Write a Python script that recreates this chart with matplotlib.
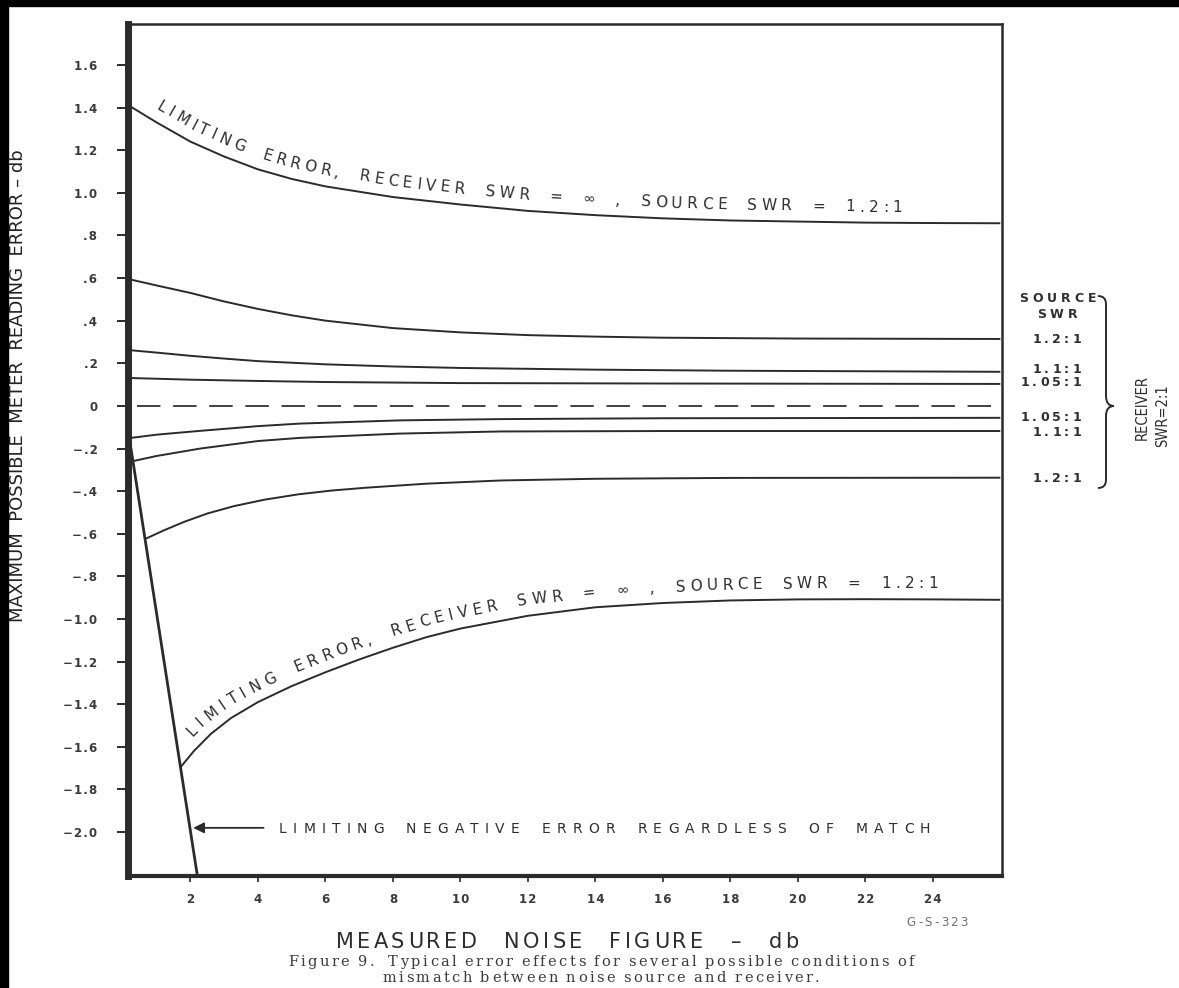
import numpy as np
import matplotlib
matplotlib.use('Agg')
import matplotlib.pyplot as plt
from matplotlib.font_manager import FontProperties
from matplotlib.transforms import IdentityTransform
from matplotlib.patches import Rectangle, PathPatch
from matplotlib.path import Path

# curves (x = measured noise figure, y = error in db)
lim_pos_x = [0.17, 1.0, 2.0, 3.0, 4.0, 5.0, 6.0, 8.0, 10.0, 12.0, 14.0, 16.0, 18.0, 20.0, 22.0, 24.0, 26.0]
lim_pos_y = [1.41, 1.33, 1.24, 1.17, 1.11, 1.065, 1.03, 0.98, 0.945, 0.915, 0.895, 0.88, 0.87, 0.865, 0.86, 0.858, 0.857]

lim_neg_x = [1.71, 2.1, 2.6, 3.2, 4.0, 5.0, 6.0, 7.0, 8.0, 9.0, 10.0, 12.0, 14.0, 16.0, 18.0, 20.0, 22.0, 24.0, 26.0]
lim_neg_y = [-1.695, -1.62, -1.54, -1.465, -1.39, -1.315, -1.25, -1.19, -1.135, -1.085, -1.045, -0.985, -0.945,
             -0.925, -0.913, -0.908, -0.907, -0.908, -0.91]

p12_x = [0.17, 1, 2, 3, 4, 5, 6, 8, 10, 12, 14, 16, 20, 26]
p12_y = [0.595, 0.565, 0.53, 0.49, 0.455, 0.425, 0.40, 0.365, 0.345, 0.332, 0.325, 0.32, 0.316, 0.314]

p11_x = [0.17, 1, 2, 3, 4, 6, 8, 10, 14, 18, 26]
p11_y = [0.262, 0.25, 0.235, 0.222, 0.21, 0.195, 0.185, 0.178, 0.17, 0.165, 0.16]

p105_x = [0.17, 2, 4, 6, 10, 16, 26]
p105_y = [0.131, 0.123, 0.117, 0.112, 0.107, 0.105, 0.103]

n105_x = [0.25, 1, 2.3, 4, 5.25, 8.2, 11.2, 16, 26]
n105_y = [-0.15, -0.135, -0.117, -0.095, -0.083, -0.068, -0.062, -0.058, -0.056]

n11_x = [0.33, 1, 2.3, 4, 5.25, 8.2, 11.2, 16, 26]
n11_y = [-0.258, -0.235, -0.2, -0.165, -0.15, -0.13, -0.12, -0.118, -0.118]

n12_x = [0.68, 1.2, 1.8, 2.5, 3.3, 4.2, 5.2, 6.2, 7.2, 9, 11.2, 14, 18, 26]
n12_y = [-0.623, -0.585, -0.545, -0.505, -0.47, -0.44, -0.415, -0.397, -0.384, -0.365, -0.35, -0.342, -0.338, -0.337]

steep_x = [0.12, 2.25]
steep_y = [-0.08, -2.25]

yticks = [1.6, 1.4, 1.2, 1.0, 0.8, 0.6, 0.4, 0.2, 0.0, -0.2, -0.4, -0.6, -0.8, -1.0,
          -1.2, -1.4, -1.6, -1.8, -2.0]
ytick_labels = ['1.6', '1.4', '1.2', '1.0', '.8', '.6', '.4', '.2', '0', '\u2212.2', '\u2212.4',
                '\u2212.6', '\u2212.8', '\u22121.0', '\u22121.2', '\u22121.4', '\u22121.6',
                '\u22121.8', '\u22122.0']
xticks = [2, 4, 6, 8, 10, 12, 14, 16, 18, 20, 22, 24]

pos_labels = ['1.2:1', '1.1:1', '1.05:1']
neg_labels = ['1.05:1', '1.1:1', '1.2:1']

INK = '#2b2b2b'
TXT = '#2e2e2e'
DPI = 100
W, H = 1179, 988

fig = plt.figure(figsize=(W / DPI, H / DPI), dpi=DPI)
fig.patch.set_facecolor('white')
ax = fig.add_axes([128 / W, 112 / H, 874 / W, 852 / H])
ax.set_xlim(0.15, 26.05)
ax.set_ylim(-2.206, 1.792)

for c in [(lim_pos_x, lim_pos_y), (lim_neg_x, lim_neg_y), (p12_x, p12_y), (p11_x, p11_y),
          (p105_x, p105_y), (n105_x, n105_y), (n11_x, n11_y), (n12_x, n12_y)]:
    ax.plot(c[0], c[1], color=INK, lw=1.4, solid_capstyle='butt', solid_joinstyle='round')
ax.plot(steep_x, steep_y, color=INK, lw=2.0)
ax.axhline(0, xmin=0.01, color='#333333', lw=1.3, dashes=(13, 7))

sp = '\u200a'
ax.set_yticks(yticks)
ax.set_yticklabels([sp.join(t) for t in ytick_labels])
ax.set_xticks(xticks)
ax.set_xticklabels([sp.join(str(v)) for v in xticks])
ax.tick_params(axis='y', length=8, width=1.4, pad=14, labelsize=8.5, colors=INK)
ax.tick_params(axis='x', length=4.5, width=1.2, pad=8, labelsize=8.5, colors=INK)
for lab in ax.get_xticklabels() + ax.get_yticklabels():
    lab.set_fontweight('bold')
    lab.set_color('#3a3a3a')

ax.spines['left'].set_linewidth(5)
ax.spines['bottom'].set_linewidth(3)
ax.spines['top'].set_linewidth(1.8)
ax.spines['right'].set_linewidth(1.8)
for s in ax.spines.values():
    s.set_color(INK)

renderer = fig.canvas.get_renderer()


def char_w(ch, prop):
    return renderer.get_text_width_height_descent(ch, prop, ismath=False)[0]


def put_chars(pts, s, start, fs, track, space, offset=0, family='DejaVu Sans',
              weight='normal', color=TXT):
    # lay characters one by one along a polyline given in pixels (baseline)
    pts = np.asarray(pts, dtype=float)
    d = np.diff(pts, axis=0)
    L = np.concatenate([[0], np.cumsum(np.hypot(d[:, 0], d[:, 1]))])
    prop = FontProperties(family=family, size=fs, weight=weight)
    a = start
    for ch in s:
        if ch == ' ':
            a += space
            continue
        w = char_w(ch, prop)
        c = a + w / 2
        x = np.interp(c, L, pts[:, 0])
        y = np.interp(c, L, pts[:, 1])
        x1, y1 = np.interp(c - 10, L, pts[:, 0]), np.interp(c - 10, L, pts[:, 1])
        x2, y2 = np.interp(c + 10, L, pts[:, 0]), np.interp(c + 10, L, pts[:, 1])
        ang = np.arctan2(y2 - y1, x2 - x1)
        nx, ny = -np.sin(ang), np.cos(ang)
        ax.text(x + offset * nx, y + offset * ny, ch, transform=IdentityTransform(),
                rotation=np.degrees(ang), rotation_mode='anchor', ha='center', va='baseline',
                fontproperties=prop, color=color)
        a += w + track


def text_width(s, fs, track, space, family='DejaVu Sans', weight='normal'):
    prop = FontProperties(family=family, size=fs, weight=weight)
    tot = 0
    for ch in s:
        tot += space if ch == ' ' else char_w(ch, prop) + track
    return tot - track


def line_text(x, y, s, fs, track, space, ha='left', **kw):
    # x, y in pixels from the top-left corner, y = middle of the capitals
    w = text_width(s, fs, track, space, kw.get('family', 'DejaVu Sans'), kw.get('weight', 'normal'))
    x0 = x - w if ha == 'right' else (x - w / 2 if ha == 'center' else x)
    base = H - y - 0.365 * fs * DPI / 72
    put_chars([(x0, base), (x0 + 3000, base)], s, 0, fs, track, space, **kw)


def curve_pixels(xs, ys):
    return ax.transData.transform(np.column_stack([xs, ys]))


def arc_at(pts, xpix):
    d = np.diff(pts, axis=0)
    L = np.concatenate([[0], np.cumsum(np.hypot(d[:, 0], d[:, 1]))])
    return np.interp(xpix, pts[:, 0], L)


label = 'LIMITING ERROR, RECEIVER SWR = \u221e , SOURCE SWR = 1.2:1'
top_pts = curve_pixels(lim_pos_x, lim_pos_y)
put_chars(top_pts, label, arc_at(top_pts, 150), 11, 4.5, 16, offset=11)
bot_pts = curve_pixels(lim_neg_x, lim_neg_y)
put_chars(bot_pts, label, arc_at(bot_pts, 200), 11, 4.5, 16, offset=11)

# arrow to the steep line + its note
ax.annotate('', xy=(2.0, -1.98), xytext=(4.25, -1.98),
            arrowprops=dict(arrowstyle='-|>', color=INK, lw=1.3, mutation_scale=16))
ya = H - ax.transData.transform((2.0, -1.98))[1]
line_text(279, ya, 'LIMITING NEGATIVE ERROR REGARDLESS OF MATCH', 10, 6.2, 16)

# right-hand labels
line_text(1058, 297, 'SOURCE', 9, 4, 8, ha='center', weight='bold')
line_text(1057, 313, 'SWR', 9, 4, 8, ha='center', weight='bold')
right_y_px = [338, 368, 381, 416, 431, 477]
for lab, yp in zip(pos_labels + neg_labels, right_y_px):
    line_text(1081, yp, lab, 9, 3.2, 8, ha='right', weight='bold')

# curly brace
bx, btop, bbot, bmid = 1104, 296, 488, 406
verts = [(bx - 6, btop), (bx + 2, btop), (bx + 2, btop + 8),
         (bx + 2, bmid - 10), (bx + 2, bmid), (bx + 10, bmid),
         (bx + 2, bmid), (bx + 2, bmid + 10),
         (bx + 2, bbot - 8), (bx + 2, bbot), (bx - 6, bbot)]
verts = [(x / W, 1 - y / H) for x, y in verts]
codes = [Path.MOVETO, Path.CURVE3, Path.CURVE3, Path.LINETO, Path.CURVE3, Path.CURVE3,
         Path.CURVE3, Path.CURVE3, Path.LINETO, Path.CURVE3, Path.CURVE3]
fig.patches.append(PathPatch(Path(verts, codes), transform=fig.transFigure, fill=False,
                             lw=1.4, edgecolor=INK))

fig.text(1142 / W, 1 - 407 / H, 'RECEIVER', rotation=90, ha='center', va='center',
         fontsize=10.5, color=TXT, fontstretch='condensed')
fig.text(1163 / W, 1 - 416 / H, 'SWR=2:1', rotation=90, ha='center', va='center',
         fontsize=10.5, color=TXT, fontstretch='condensed')

# axis labels and caption
fig.text(18 / W, 1 - 386 / H, 'MAXIMUM  POSSIBLE  METER  READING  ERROR \u2013 db',
         rotation=90, ha='center', va='center', fontsize=13, color='#222222')
line_text(567, 940, 'MEASURED NOISE FIGURE \u2013 db', 15, 3.4, 24, ha='center')
line_text(937, 922, 'G-S-323', 8.5, 2.2, 6, ha='center', color='#707070')
line_text(601, 961, 'Figure 9.  Typical error effects for several possible conditions of',
          10.5, 2.4, 6, ha='center', family='DejaVu Serif', color='#3c3c3c')
line_text(601, 977, 'mismatch between noise source and receiver.',
          10.5, 2.4, 6, ha='center', family='DejaVu Serif', color='#3c3c3c')

# dark scan margins
fig.patches.append(Rectangle((0, 1 - 6 / H), 1, 6 / H, transform=fig.transFigure,
                             color='black'))
fig.patches.append(Rectangle((0, 0), 8 / W, 1, transform=fig.transFigure, color='black'))

fig.savefig('out.png', dpi=DPI)
